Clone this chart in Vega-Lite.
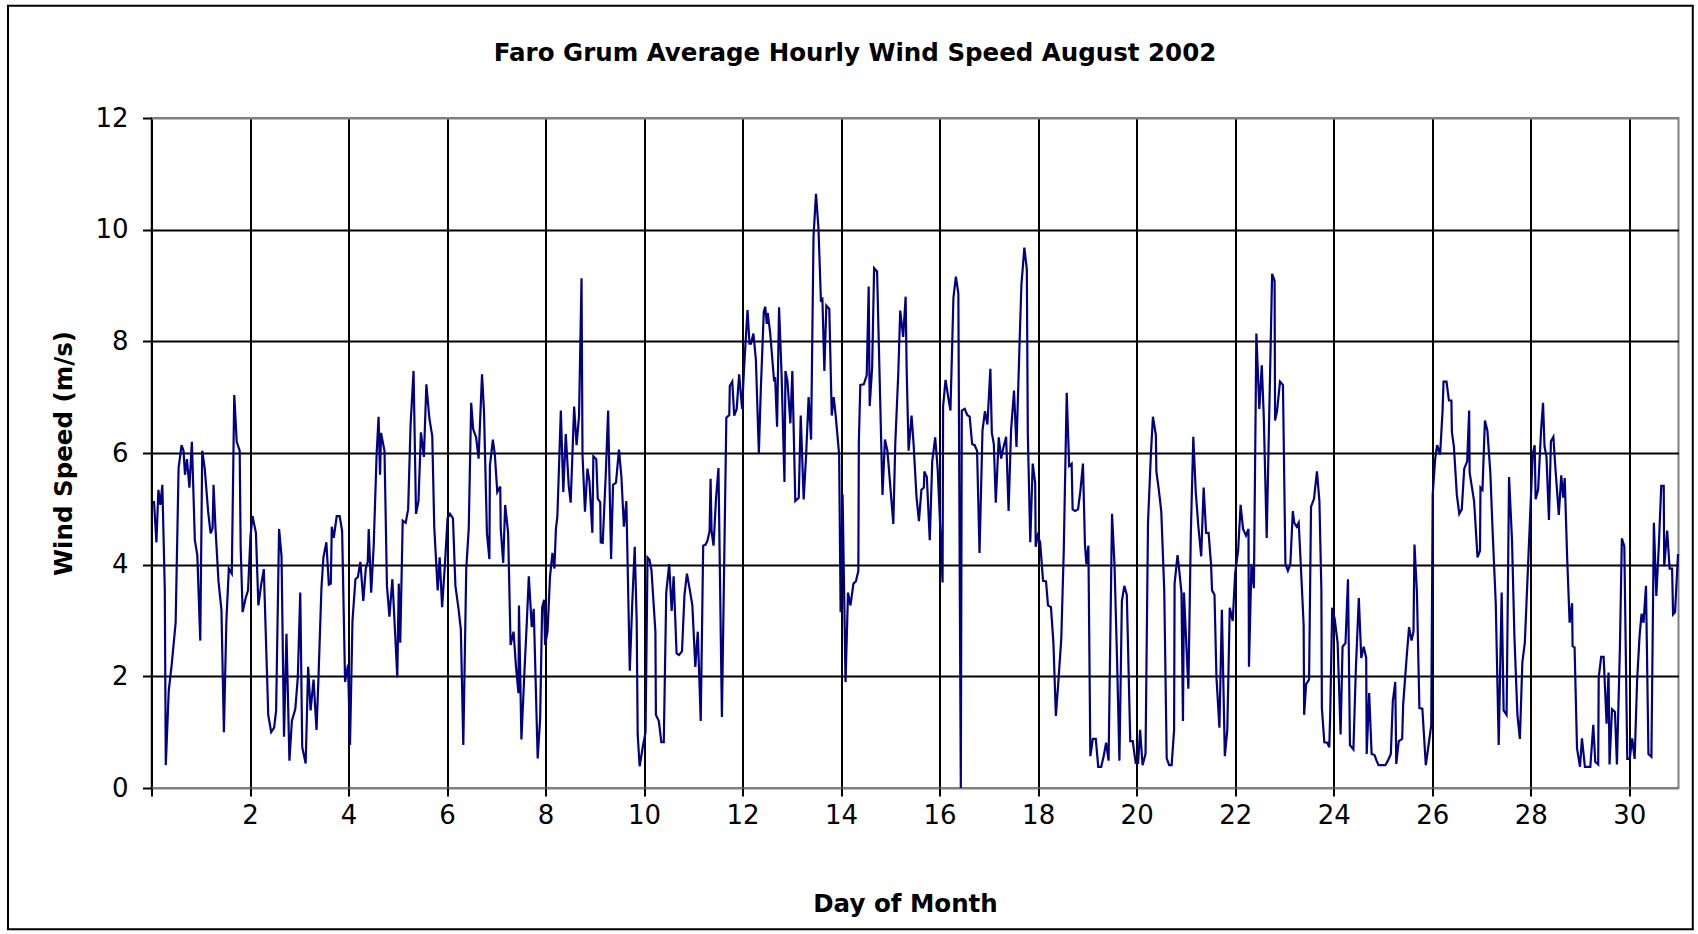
{
"$schema": "https://vega.github.io/schema/vega-lite/v6.json",
"width": 1527, "height": 670,
"autosize": {"type": "none"},
"padding": {"left": 151.5, "top": 118, "right": 19.5, "bottom": 146},
"background": "white",
"title": {"text": "Faro Grum Average Hourly Wind Speed August 2002", "font": "DejaVu Sans", "fontSize": 24.5, "fontWeight": "bold", "color": "black", "anchor": "middle", "frame": "group", "dx": -60, "offset": -74, "baseline": "middle"},
"layer": [
{"data": {"values": [
{"day":0.05,"speed":5.14},{"day":0.10,"speed":4.40},{"day":0.14,"speed":5.34},{"day":0.18,"speed":5.07},{"day":0.22,"speed":5.43},{"day":0.27,"speed":3.54},{"day":0.29,"speed":0.41},{"day":0.35,"speed":1.74},{"day":0.41,"speed":2.21},{"day":0.49,"speed":2.96},{"day":0.55,"speed":5.73},{"day":0.61,"speed":6.14},{"day":0.65,"speed":6.04},{"day":0.68,"speed":5.61},{"day":0.72,"speed":5.89},{"day":0.77,"speed":5.38},{"day":0.82,"speed":6.20},{"day":0.88,"speed":4.44},{"day":0.93,"speed":4.17},{"day":0.99,"speed":2.64},{"day":1.03,"speed":6.04},{"day":1.08,"speed":5.73},{"day":1.15,"speed":4.95},{"day":1.20,"speed":4.56},{"day":1.24,"speed":4.65},{"day":1.26,"speed":5.43},{"day":1.30,"speed":4.64},{"day":1.36,"speed":3.70},{"day":1.42,"speed":3.19},{"day":1.47,"speed":1.0},{"day":1.52,"speed":2.99},{"day":1.57,"speed":3.93},{"day":1.63,"speed":3.84},{"day":1.68,"speed":7.04},{"day":1.73,"speed":6.20},{"day":1.79,"speed":6.04},{"day":1.81,"speed":4.32},{"day":1.85,"speed":3.15},{"day":1.91,"speed":3.40},{"day":1.96,"speed":3.54},{"day":2.01,"speed":4.52},{"day":2.05,"speed":4.87},{"day":2.12,"speed":4.57},{"day":2.17,"speed":3.27},{"day":2.23,"speed":3.66},{"day":2.28,"speed":3.92},{"day":2.37,"speed":1.31},{"day":2.43,"speed":1.00},{"day":2.49,"speed":1.08},{"day":2.53,"speed":1.39},{"day":2.59,"speed":4.64},{"day":2.64,"speed":4.15},{"day":2.69,"speed":0.92},{"day":2.74,"speed":2.76},{"day":2.80,"speed":0.49},
{"day":2.85,"speed":1.20},{"day":2.92,"speed":1.42},{"day":2.97,"speed":1.98},{"day":3.02,"speed":3.50},{"day":3.06,"speed":0.73},{"day":3.13,"speed":0.44},{"day":3.18,"speed":2.17},{"day":3.23,"speed":1.39},{"day":3.29,"speed":1.94},{"day":3.35,"speed":1.04},{"day":3.39,"speed":1.98},{"day":3.45,"speed":3.58},{"day":3.49,"speed":4.13},{"day":3.55,"speed":4.40},{"day":3.60,"speed":3.64},{"day":3.64,"speed":3.66},{"day":3.66,"speed":4.68},{"day":3.70,"speed":4.48},{"day":3.76,"speed":4.87},{"day":3.82,"speed":4.87},{"day":3.87,"speed":4.60},{"day":3.93,"speed":1.90},{"day":3.99,"speed":2.21},{"day":4.03,"speed":0.77},{"day":4.08,"speed":2.99},{"day":4.14,"speed":3.74},{"day":4.19,"speed":3.78},{"day":4.24,"speed":4.05},{"day":4.30,"speed":3.35},{"day":4.35,"speed":3.93},{"day":4.39,"speed":4.05},{"day":4.41,"speed":4.64},{"day":4.46,"speed":3.50},{"day":4.51,"speed":4.32},{"day":4.57,"speed":5.97},{"day":4.61,"speed":6.65},{"day":4.64,"speed":5.61},{"day":4.66,"speed":6.36},{"day":4.73,"speed":6.04},{"day":4.78,"speed":3.62},{"day":4.83,"speed":3.07},{"day":4.89,"speed":3.74},{"day":4.94,"speed":2.88},{"day":4.99,"speed":1.98},{"day":5.02,"speed":3.66},{"day":5.05,"speed":2.60},{"day":5.10,"speed":4.79},{"day":5.16,"speed":4.75},{"day":5.21,"speed":4.99},{"day":5.26,"speed":6.51},{"day":5.32,"speed":7.47},{"day":5.37,"speed":4.91},{"day":5.42,"speed":5.14},{"day":5.47,"speed":6.37},{"day":5.53,"speed":5.93},{"day":5.58,"speed":7.23},{"day":5.64,"speed":6.63},{"day":5.70,"speed":6.30},
{"day":5.74,"speed":4.68},{"day":5.81,"speed":3.54},{"day":5.85,"speed":4.13},{"day":5.90,"speed":3.24},{"day":5.96,"speed":4.05},{"day":6.01,"speed":4.83},{"day":6.06,"speed":4.91},{"day":6.12,"speed":4.83},{"day":6.17,"speed":3.62},{"day":6.23,"speed":3.23},{"day":6.28,"speed":2.84},{"day":6.33,"speed":0.77},{"day":6.39,"speed":3.93},{"day":6.44,"speed":4.64},{"day":6.49,"speed":6.90},{"day":6.53,"speed":6.43},{"day":6.59,"speed":6.28},{"day":6.64,"speed":5.90},{"day":6.71,"speed":7.41},{"day":6.75,"speed":6.75},{"day":6.81,"speed":4.56},{"day":6.86,"speed":4.10},{"day":6.87,"speed":5.77},{"day":6.93,"speed":6.24},{"day":6.97,"speed":5.97},{"day":7.02,"speed":5.30},{"day":7.08,"speed":5.40},{"day":7.09,"speed":4.64},{"day":7.14,"speed":4.03},{"day":7.18,"speed":5.07},{"day":7.24,"speed":4.57},{"day":7.29,"speed":2.56},{"day":7.35,"speed":2.80},{"day":7.40,"speed":2.17},{"day":7.45,"speed":1.70},{"day":7.46,"speed":3.27},{"day":7.51,"speed":0.87},{"day":7.57,"speed":2.06},{"day":7.62,"speed":2.98},{"day":7.66,"speed":3.79},{"day":7.72,"speed":2.88},{"day":7.76,"speed":3.21},{"day":7.84,"speed":0.53},{"day":7.89,"speed":1.24},{"day":7.93,"speed":3.23},{"day":7.97,"speed":3.37},{"day":7.99,"speed":2.56},{"day":8.04,"speed":2.80},{"day":8.09,"speed":3.78},{"day":8.14,"speed":4.21},{"day":8.18,"speed":3.93},{"day":8.21,"speed":4.64},{"day":8.24,"speed":4.87},{"day":8.31,"speed":6.76},{"day":8.36,"speed":5.30},{"day":8.41,"speed":6.34},{"day":8.47,"speed":5.42},{"day":8.51,"speed":5.11},
{"day":8.58,"speed":6.83},{"day":8.63,"speed":6.14},{"day":8.68,"speed":6.67},{"day":8.73,"speed":9.13},{"day":8.75,"speed":5.97},{"day":8.80,"speed":4.95},{"day":8.85,"speed":5.72},{"day":8.89,"speed":5.50},{"day":8.95,"speed":4.57},{"day":8.97,"speed":5.94},{"day":9.03,"speed":5.89},{"day":9.06,"speed":5.18},{"day":9.11,"speed":5.12},{"day":9.12,"speed":4.40},{"day":9.16,"speed":4.39},{"day":9.22,"speed":5.57},{"day":9.27,"speed":6.76},{"day":9.33,"speed":4.10},{"day":9.37,"speed":5.43},{"day":9.43,"speed":5.47},{"day":9.49,"speed":6.06},{"day":9.54,"speed":5.57},{"day":9.59,"speed":4.68},{"day":9.64,"speed":5.14},{"day":9.71,"speed":2.10},{"day":9.76,"speed":3.31},{"day":9.81,"speed":4.32},{"day":9.85,"speed":2.99},{"day":9.87,"speed":0.96},{"day":9.91,"speed":0.39},{"day":9.98,"speed":0.77},{"day":10.03,"speed":1.00},{"day":10.07,"speed":4.13},{"day":10.11,"speed":4.09},{"day":10.15,"speed":3.90},{"day":10.23,"speed":2.80},{"day":10.24,"speed":1.31},{"day":10.30,"speed":1.20},{"day":10.35,"speed":0.82},{"day":10.40,"speed":0.82},{"day":10.45,"speed":3.50},{"day":10.51,"speed":4.01},{"day":10.56,"speed":3.17},{"day":10.60,"speed":3.79},{"day":10.66,"speed":2.41},{"day":10.71,"speed":2.38},{"day":10.77,"speed":2.45},{"day":10.82,"speed":3.46},{"day":10.87,"speed":3.84},{"day":10.93,"speed":3.54},{"day":10.98,"speed":3.27},{"day":11.04,"speed":2.17},{"day":11.09,"speed":2.80},{"day":11.15,"speed":1.20},{"day":11.20,"speed":4.34},{"day":11.25,"speed":4.36},{"day":11.29,"speed":4.44},{"day":11.33,"speed":4.60},
{"day":11.35,"speed":5.54},{"day":11.37,"speed":4.60},{"day":11.41,"speed":4.34},{"day":11.46,"speed":5.18},{"day":11.51,"speed":5.73},{"day":11.58,"speed":1.27},{"day":11.67,"speed":6.63},{"day":11.73,"speed":6.68},{"day":11.74,"speed":7.20},{"day":11.79,"speed":7.28},{"day":11.83,"speed":6.67},{"day":11.88,"speed":6.79},{"day":11.93,"speed":7.41},{"day":11.99,"speed":6.79},{"day":12.03,"speed":7.53},{"day":12.10,"speed":8.56},{"day":12.14,"speed":7.96},{"day":12.17,"speed":7.96},{"day":12.22,"speed":8.14},{"day":12.27,"speed":7.67},{"day":12.33,"speed":6.00},{"day":12.37,"speed":7.14},{"day":12.43,"speed":8.53},{"day":12.46,"speed":8.62},{"day":12.49,"speed":8.31},{"day":12.51,"speed":8.51},{"day":12.56,"speed":8.15},{"day":12.64,"speed":7.28},{"day":12.66,"speed":7.36},{"day":12.70,"speed":6.47},{"day":12.74,"speed":8.61},{"day":12.79,"speed":7.45},{"day":12.85,"speed":5.48},{"day":12.87,"speed":7.47},{"day":12.91,"speed":7.29},{"day":12.97,"speed":6.53},{"day":13.01,"speed":7.47},{"day":13.07,"speed":5.14},{"day":13.14,"speed":5.20},{"day":13.18,"speed":6.67},{"day":13.24,"speed":5.17},{"day":13.29,"speed":5.97},{"day":13.34,"speed":7.00},{"day":13.39,"speed":6.24},{"day":13.44,"speed":9.88},{"day":13.49,"speed":10.64},{"day":13.54,"speed":10.03},{"day":13.59,"speed":8.74},{"day":13.62,"speed":8.76},{"day":13.66,"speed":7.47},{"day":13.70,"speed":8.64},{"day":13.76,"speed":8.58},{"day":13.81,"speed":6.67},{"day":13.85,"speed":7.00},{"day":13.89,"speed":6.67},{"day":13.96,"speed":5.97},{"day":13.99,"speed":3.15},{"day":14.03,"speed":5.26},
{"day":14.09,"speed":1.90},{"day":14.14,"speed":3.50},{"day":14.19,"speed":3.27},{"day":14.25,"speed":3.66},{"day":14.30,"speed":3.70},{"day":14.35,"speed":3.89},{"day":14.36,"speed":6.20},{"day":14.39,"speed":7.22},{"day":14.46,"speed":7.23},{"day":14.52,"speed":7.39},{"day":14.56,"speed":8.98},{"day":14.58,"speed":6.84},{"day":14.63,"speed":7.53},{"day":14.67,"speed":9.31},{"day":14.73,"speed":9.25},{"day":14.79,"speed":7.06},{"day":14.84,"speed":5.25},{"day":14.89,"speed":6.24},{"day":14.94,"speed":6.04},{"day":15.06,"speed":4.73},{"day":15.10,"speed":6.18},{"day":15.16,"speed":7.41},{"day":15.20,"speed":8.55},{"day":15.26,"speed":8.08},{"day":15.31,"speed":8.80},{"day":15.33,"speed":7.53},{"day":15.37,"speed":6.04},{"day":15.43,"speed":6.67},{"day":15.47,"speed":6.18},{"day":15.53,"speed":5.22},{"day":15.58,"speed":4.78},{"day":15.63,"speed":5.34},{"day":15.68,"speed":5.38},{"day":15.69,"speed":5.67},{"day":15.74,"speed":5.57},{"day":15.80,"speed":4.44},{"day":15.85,"speed":5.85},{"day":15.91,"speed":6.28},{"day":15.96,"speed":5.72},{"day":16.02,"speed":4.52},{"day":16.06,"speed":3.68},{"day":16.07,"speed":6.83},{"day":16.12,"speed":7.31},{"day":16.18,"speed":6.97},{"day":16.22,"speed":6.76},{"day":16.28,"speed":8.78},{"day":16.33,"speed":9.16},{"day":16.38,"speed":8.86},{"day":16.43,"speed":0.0},{"day":16.45,"speed":6.76},{"day":16.51,"speed":6.79},{"day":16.56,"speed":6.68},{"day":16.61,"speed":6.65},{"day":16.66,"speed":6.16},{"day":16.71,"speed":6.14},{"day":16.76,"speed":6.04},{"day":16.81,"speed":4.21},{"day":16.87,"speed":6.40},{"day":16.92,"speed":6.75},{"day":16.97,"speed":6.51},
{"day":17.03,"speed":7.51},{"day":17.06,"speed":6.36},{"day":17.10,"speed":6.16},{"day":17.14,"speed":5.11},{"day":17.20,"speed":6.28},{"day":17.25,"speed":5.90},{"day":17.29,"speed":6.08},{"day":17.35,"speed":6.29},{"day":17.40,"speed":4.96},{"day":17.45,"speed":6.40},{"day":17.51,"speed":7.12},{"day":17.56,"speed":6.11},{"day":17.62,"speed":7.88},{"day":17.66,"speed":9.01},{"day":17.72,"speed":9.68},{"day":17.77,"speed":9.29},{"day":17.79,"speed":6.36},{"day":17.84,"speed":4.40},{"day":17.89,"speed":5.81},{"day":17.94,"speed":5.46},{"day":17.95,"speed":4.32},{"day":17.99,"speed":4.52},{"day":18.04,"speed":4.40},{"day":18.10,"speed":3.71},{"day":18.16,"speed":3.70},{"day":18.20,"speed":3.27},{"day":18.26,"speed":3.24},{"day":18.31,"speed":2.60},{"day":18.36,"speed":1.29},{"day":18.41,"speed":1.90},{"day":18.47,"speed":2.68},{"day":18.52,"speed":4.25},{"day":18.58,"speed":7.08},{"day":18.63,"speed":5.77},{"day":18.68,"speed":5.81},{"day":18.70,"speed":4.99},{"day":18.75,"speed":4.96},{"day":18.81,"speed":4.99},{"day":18.86,"speed":5.34},{"day":18.91,"speed":5.81},{"day":18.95,"speed":4.36},{"day":18.98,"speed":4.01},{"day":19.02,"speed":4.34},{"day":19.06,"speed":0.57},{"day":19.11,"speed":0.88},{"day":19.17,"speed":0.88},{"day":19.22,"speed":0.38},{"day":19.28,"speed":0.38},{"day":19.33,"speed":0.57},{"day":19.38,"speed":0.81},{"day":19.43,"speed":0.49},{"day":19.50,"speed":4.91},{"day":19.55,"speed":4.01},{"day":19.60,"speed":2.37},{"day":19.65,"speed":0.49},{"day":19.70,"speed":3.35},{"day":19.75,"speed":3.62},
{"day":19.80,"speed":3.46},{"day":19.87,"speed":0.84},{"day":19.92,"speed":0.84},{"day":19.98,"speed":0.45},{"day":20.03,"speed":0.45},{"day":20.07,"speed":1.04},{"day":20.12,"speed":0.41},{"day":20.18,"speed":0.61},{"day":20.23,"speed":4.75},{"day":20.29,"speed":6.00},{"day":20.33,"speed":6.65},{"day":20.39,"speed":6.32},{"day":20.40,"speed":5.67},{"day":20.45,"speed":5.34},{"day":20.50,"speed":4.95},{"day":20.56,"speed":3.54},{"day":20.61,"speed":0.53},{"day":20.66,"speed":0.41},{"day":20.71,"speed":0.41},{"day":20.76,"speed":1.04},{"day":20.77,"speed":3.66},{"day":20.83,"speed":4.17},{"day":20.87,"speed":3.85},{"day":20.91,"speed":3.50},{"day":20.94,"speed":1.20},{"day":20.96,"speed":3.50},{"day":21.05,"speed":1.78},{"day":21.10,"speed":4.57},{"day":21.15,"speed":6.29},{"day":21.20,"speed":5.30},{"day":21.25,"speed":4.71},{"day":21.31,"speed":4.15},{"day":21.36,"speed":5.38},{"day":21.41,"speed":4.57},{"day":21.46,"speed":4.57},{"day":21.51,"speed":4.01},{"day":21.53,"speed":3.54},{"day":21.58,"speed":3.46},{"day":21.62,"speed":1.98},{"day":21.68,"speed":1.08},{"day":21.73,"speed":3.19},{"day":21.79,"speed":0.57},{"day":21.84,"speed":1.04},{"day":21.89,"speed":3.23},{"day":21.95,"speed":2.99},{"day":22.00,"speed":3.85},{"day":22.06,"speed":4.25},{"day":22.11,"speed":5.07},{"day":22.16,"speed":4.64},{"day":22.22,"speed":4.52},{"day":22.27,"speed":4.64},{"day":22.28,"speed":2.17},{"day":22.33,"speed":4.01},{"day":22.38,"speed":3.58},{"day":22.43,"speed":8.14},{"day":22.49,"speed":6.79},{"day":22.54,"speed":7.57},{"day":22.58,"speed":6.67},
{"day":22.64,"speed":4.48},{"day":22.75,"speed":9.21},{"day":22.80,"speed":9.08},{"day":22.81,"speed":6.58},{"day":22.85,"speed":6.75},{"day":22.91,"speed":7.28},{"day":22.97,"speed":7.22},{"day":23.02,"speed":4.01},{"day":23.07,"speed":3.89},{"day":23.12,"speed":4.01},{"day":23.17,"speed":4.96},{"day":23.20,"speed":4.75},{"day":23.25,"speed":4.68},{"day":23.29,"speed":4.75},{"day":23.34,"speed":3.85},{"day":23.39,"speed":2.92},{"day":23.40,"speed":1.31},{"day":23.44,"speed":1.86},{"day":23.50,"speed":1.94},{"day":23.54,"speed":5.04},{"day":23.60,"speed":5.18},{"day":23.66,"speed":5.67},{"day":23.71,"speed":5.14},{"day":23.75,"speed":3.54},{"day":23.76,"speed":1.43},{"day":23.81,"speed":0.82},{"day":23.87,"speed":0.81},{"day":23.91,"speed":0.73},{"day":23.93,"speed":1.35},{"day":23.97,"speed":3.23},{"day":24.02,"speed":3.03},{"day":24.08,"speed":2.60},{"day":24.14,"speed":0.96},{"day":24.18,"speed":2.53},{"day":24.24,"speed":2.60},{"day":24.29,"speed":3.74},{"day":24.33,"speed":0.77},{"day":24.40,"speed":0.69},{"day":24.45,"speed":2.13},{"day":24.51,"speed":3.40},{"day":24.56,"speed":2.33},{"day":24.61,"speed":2.53},{"day":24.66,"speed":2.33},{"day":24.67,"speed":0.61},{"day":24.72,"speed":1.70},{"day":24.77,"speed":0.61},{"day":24.83,"speed":0.59},{"day":24.87,"speed":0.49},{"day":24.91,"speed":0.41},{"day":24.98,"speed":0.41},{"day":25.05,"speed":0.41},{"day":25.10,"speed":0.49},{"day":25.16,"speed":0.61},{"day":25.20,"speed":1.55},{"day":25.25,"speed":1.90},{"day":25.27,"speed":0.43},{"day":25.32,"speed":0.84},{"day":25.39,"speed":0.88},
{"day":25.41,"speed":1.49},{"day":25.48,"speed":2.33},{"day":25.53,"speed":2.88},{"day":25.58,"speed":2.64},{"day":25.62,"speed":2.80},{"day":25.64,"speed":4.36},{"day":25.69,"speed":3.50},{"day":25.74,"speed":1.43},{"day":25.80,"speed":1.42},{"day":25.87,"speed":0.41},{"day":25.92,"speed":0.73},{"day":25.98,"speed":1.12},{"day":26.01,"speed":5.26},{"day":26.06,"speed":5.89},{"day":26.10,"speed":6.14},{"day":26.16,"speed":5.97},{"day":26.21,"speed":6.75},{"day":26.23,"speed":7.28},{"day":26.29,"speed":7.28},{"day":26.34,"speed":6.94},{"day":26.39,"speed":6.94},{"day":26.40,"speed":6.37},{"day":26.44,"speed":6.12},{"day":26.50,"speed":5.25},{"day":26.55,"speed":4.91},{"day":26.60,"speed":4.99},{"day":26.65,"speed":5.72},{"day":26.71,"speed":5.85},{"day":26.75,"speed":6.76},{"day":26.76,"speed":5.65},{"day":26.80,"speed":5.42},{"day":26.85,"speed":5.14},{"day":26.92,"speed":4.13},{"day":26.97,"speed":4.25},{"day":26.98,"speed":5.38},{"day":27.02,"speed":5.34},{"day":27.07,"speed":6.58},{"day":27.12,"speed":6.40},{"day":27.18,"speed":5.65},{"day":27.23,"speed":4.52},{"day":27.29,"speed":3.31},{"day":27.35,"speed":0.77},{"day":27.41,"speed":3.50},{"day":27.45,"speed":1.39},{"day":27.51,"speed":1.31},{"day":27.56,"speed":5.57},{"day":27.62,"speed":4.44},{"day":27.67,"speed":2.68},{"day":27.73,"speed":1.31},{"day":27.78,"speed":0.88},{"day":27.83,"speed":2.25},{"day":27.88,"speed":2.60},{"day":28.04,"speed":5.97},{"day":28.08,"speed":6.14},{"day":28.10,"speed":5.17},{"day":28.15,"speed":5.34},{"day":28.21,"speed":6.40},{"day":28.25,"speed":6.90},
{"day":28.28,"speed":6.12},{"day":28.32,"speed":5.93},{"day":28.37,"speed":4.80},{"day":28.41,"speed":6.21},{"day":28.46,"speed":6.29},{"day":28.50,"speed":5.74},{"day":28.57,"speed":4.89},{"day":28.62,"speed":5.60},{"day":28.66,"speed":5.20},{"day":28.69,"speed":5.55},{"day":28.74,"speed":4.12},{"day":28.79,"speed":2.96},{"day":28.84,"speed":3.31},{"day":28.85,"speed":2.54},{"day":28.89,"speed":2.52},{"day":28.94,"speed":0.71},{"day":29.00,"speed":0.38},{"day":29.04,"speed":0.89},{"day":29.10,"speed":0.38},{"day":29.14,"speed":0.38},{"day":29.21,"speed":0.38},{"day":29.27,"speed":1.13},{"day":29.31,"speed":0.47},{"day":29.37,"speed":0.42},{"day":29.38,"speed":1.98},{"day":29.43,"speed":2.35},{"day":29.48,"speed":2.35},{"day":29.54,"speed":1.15},{"day":29.58,"speed":2.07},{"day":29.60,"speed":0.42},{"day":29.65,"speed":1.41},{"day":29.71,"speed":1.36},{"day":29.75,"speed":0.42},{"day":29.81,"speed":2.49},{"day":29.85,"speed":4.47},{"day":29.90,"speed":4.33},{"day":29.96,"speed":0.52},{"day":30.01,"speed":0.52},{"day":30.06,"speed":0.89},{"day":30.11,"speed":0.52},{"day":30.16,"speed":1.93},{"day":30.21,"speed":2.73},{"day":30.25,"speed":3.12},{"day":30.29,"speed":2.96},{"day":30.34,"speed":3.62},{"day":30.39,"speed":0.61},{"day":30.45,"speed":0.56},{"day":30.50,"speed":4.75},{"day":30.55,"speed":3.44},{"day":30.60,"speed":4.33},{"day":30.65,"speed":5.41},{"day":30.70,"speed":5.41},{"day":30.71,"speed":3.97},{"day":30.77,"speed":4.61},{"day":30.82,"speed":3.93},{"day":30.87,"speed":3.93},{"day":30.89,"speed":3.11},{"day":30.93,"speed":3.15},{"day":30.99,"speed":4.19}
]},
"mark": {"type": "line", "color": "#000080", "strokeWidth": 2.2, "interpolate": "linear"},
"encoding": {
"x": {"field": "day", "type": "quantitative", "scale": {"domain": [0, 31], "nice": false, "zero": false},
 "axis": {"title": "Day of Month", "format": "d", "values": [0,2,4,6,8,10,12,14,16,18,20,22,24,26,28,30], "labelExpr": "datum.value == 0 ? '' : datum.label", "grid": true, "gridColor": "black", "gridWidth": 2, "gridOpacity": 1, "domain": false, "ticks": true, "tickSize": 8, "tickColor": "black", "tickWidth": 2, "labelFont": "DejaVu Sans", "labelFontSize": 26, "labelColor": "black", "labelPadding": 6, "labelFlush": false, "labelOverlap": false, "titleFont": "DejaVu Sans", "titleFontSize": 24.5, "titleFontWeight": "bold", "titleColor": "black", "titleX": 753.5, "titleY": 116, "titleBaseline": "middle", "titleAlign": "center"}},
"y": {"field": "speed", "type": "quantitative", "scale": {"domain": [0, 12], "nice": false, "zero": true},
 "axis": {"title": "Wind Speed (m/s)", "format": "d", "values": [0,2,4,6,8,10,12], "grid": true, "gridColor": {"condition": {"test": "datum.value == 0 || datum.value == 12", "value": "#808080"}, "value": "black"}, "gridWidth": 2, "gridOpacity": 1, "domain": false, "ticks": true, "tickSize": 9, "tickColor": "black", "tickWidth": 2, "labelFont": "DejaVu Sans", "labelFontSize": 26, "labelColor": "black", "labelPadding": 14.5, "labelFlush": false, "labelOverlap": false, "titleFont": "DejaVu Sans", "titleFontSize": 24.5, "titleFontWeight": "bold", "titleColor": "black", "titleX": -87, "titleY": 335, "titleAngle": 270, "titleBaseline": "middle", "titleAlign": "center"}}
}},
{"data": {"values": [{}]},
"mark": {"type": "rect", "fillOpacity": 0, "stroke": "black", "strokeWidth": 2, "clip": false},
"encoding": {"x": {"datum": -2.913, "type": "quantitative"}, "x2": {"datum": 31.29}, "y": {"datum": 14.01, "type": "quantitative"}, "y2": {"datum": -2.53}}}
],
"config": {"view": {"stroke": "#808080", "strokeWidth": 2}}
}
